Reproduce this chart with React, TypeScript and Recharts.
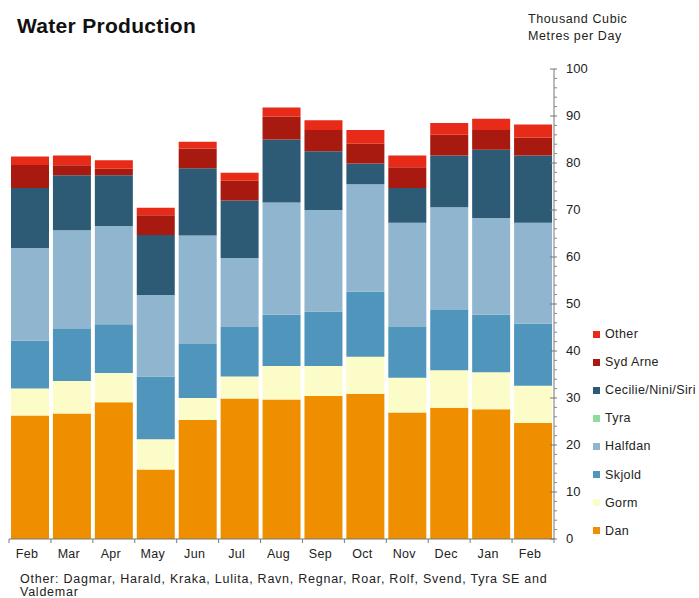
import React from "react";
import { BarChart, Bar, XAxis, YAxis } from "recharts";

const months = ["Feb", "Mar", "Apr", "May", "Jun", "Jul", "Aug", "Sep", "Oct", "Nov", "Dec", "Jan", "Feb"];
const dan = [26.3, 26.7, 29.1, 14.8, 25.3, 29.9, 29.7, 30.4, 30.9, 26.9, 27.9, 27.6, 24.7];
const gorm = [5.7, 6.9, 6.2, 6.4, 4.7, 4.7, 7.1, 6.4, 7.9, 7.4, 8.0, 7.9, 7.9];
const skjold = [10.2, 11.1, 10.4, 13.4, 11.5, 10.5, 10.9, 11.6, 13.8, 10.8, 12.8, 12.2, 13.2];
const halfdan = [19.7, 21.0, 20.9, 17.3, 23.1, 14.7, 23.9, 21.6, 22.9, 22.2, 21.9, 20.6, 21.5];
const tyra = [0, 0, 0, 0, 0, 0, 0, 0, 0, 0, 0, 0, 0];
const cecilie = [12.8, 11.7, 10.8, 12.8, 14.3, 12.2, 13.4, 12.5, 4.4, 7.4, 11.0, 14.5, 14.3];
const sydArne = [4.9, 2.1, 1.4, 4.2, 4.2, 4.2, 4.9, 4.5, 4.2, 4.4, 4.4, 4.2, 3.8];
const other = [1.8, 2.1, 1.8, 1.6, 1.4, 1.7, 1.9, 2.1, 2.9, 2.5, 2.5, 2.4, 2.8];

const yTicks = [0, 2, 4, 6, 8, 10, 12, 14, 16, 18, 20, 22, 24, 26, 28, 30, 32, 34, 36, 38, 40, 42, 44, 46, 48, 50, 52, 54, 56, 58, 60, 62, 64, 66, 68, 70, 72, 74, 76, 78, 80, 82, 84, 86, 88, 90, 92, 94, 96, 98, 100];

const series = [
  { key: "dan", name: "Dan", color: "#EF8F00", values: dan },
  { key: "gorm", name: "Gorm", color: "#FCFCC8", values: gorm },
  { key: "skjold", name: "Skjold", color: "#5096BC", values: skjold },
  { key: "halfdan", name: "Halfdan", color: "#8FB5CF", values: halfdan },
  { key: "tyra", name: "Tyra", color: "#8EDBA0", values: tyra },
  { key: "cecilie", name: "Cecilie/Nini/Siri", color: "#2D5B75", values: cecilie },
  { key: "sydArne", name: "Syd Arne", color: "#A8190F", values: sydArne },
  { key: "other", name: "Other", color: "#E82A18", values: other },
];

const data = months.map((m, i) => {
  const row: any = { month: m, idx: i };
  series.forEach((s) => {
    row[s.key] = s.values[i];
  });
  return row;
});

const FONT = "'Liberation Sans', Arial, sans-serif";
const BAND = 545 / 13;

const XTick = (props: any) => {
  const { x, y, payload, index } = props;
  const last = index === months.length - 1;
  return (
    <g>
      <line x1={x - BAND / 2} y1={y} x2={x - BAND / 2} y2={y + 4} stroke="#777" />
      {last && <line x1={x + BAND / 2} y1={y} x2={x + BAND / 2} y2={y + 4} stroke="#777" />}
      <text x={x - 3} y={y + 19} textAnchor="middle" fontSize={12.5} fill="#222" fontFamily={FONT} letterSpacing={0.3}>
        {months[payload.value] ?? payload.value}
      </text>
    </g>
  );
};

const YTick = (props: any) => {
  const { x, y, payload } = props;
  const v = payload.value;
  const major = v % 10 === 0;
  return (
    <g>
      {major ? (
        <line x1={x - 4} y1={y} x2={x + 3} y2={y} stroke="#777" />
      ) : (
        <line x1={x} y1={y} x2={x + 3} y2={y} stroke="#888" />
      )}
      {major && (
        <text x={x + 12} y={y + 4} textAnchor="start" fontSize={13} fill="#222" fontFamily={FONT}>
          {v}
        </text>
      )}
    </g>
  );
};

const legendOrder = [...series].reverse();

export default function App() {
  return (
    <div style={{ position: "absolute", left: 0, top: 0, width: 699, height: 598, background: "#fff", fontFamily: FONT }}>
      <div style={{ position: "absolute", left: 17, top: 14, fontSize: 21, fontWeight: "bold", color: "#111", letterSpacing: 0.3 }}>
        Water Production
      </div>
      <div style={{ position: "absolute", left: 528, top: 11, fontSize: 12.5, lineHeight: "16.5px", color: "#222", letterSpacing: 0.6 }}>
        Thousand Cubic
        <br />
        Metres per Day
      </div>
      <BarChart
        width={699}
        height={598}
        data={data}
        margin={{ top: 69, right: 100, bottom: 29, left: 9 }}
        barCategoryGap={2}
      >
        <XAxis
          dataKey="idx"
          interval={0}
          tickSize={0}
          tickMargin={0}
          axisLine={{ stroke: "#777" }}
          tickLine={false}
          tick={<XTick />}
          height={30}
        />
        <YAxis
          orientation="right"
          domain={[0, 100]}
          ticks={yTicks}
          interval={0}
          tickSize={0}
          tickMargin={0}
          axisLine={{ stroke: "#777" }}
          tickLine={false}
          tick={<YTick />}
          width={45}
        />
        {series.map((s) => (
          <Bar key={s.key} dataKey={s.key} stackId="a" fill={s.color} isAnimationActive={false} />
        ))}
      </BarChart>
      {legendOrder.map((s, i) => (
        <div key={s.key} style={{ position: "absolute", left: 593, top: 326 + i * 28.1, height: 16, display: "flex", alignItems: "center" }}>
          <div style={{ width: 7, height: 7, background: s.color, marginRight: 5 }} />
          <span style={{ fontSize: 12.5, color: "#222", whiteSpace: "nowrap", letterSpacing: 0.4 }}>{s.name}</span>
        </div>
      ))}
      <div style={{ position: "absolute", left: 20, top: 573, fontSize: 12.5, lineHeight: "12.5px", color: "#222", width: 600, letterSpacing: 0.75 }}>
        Other: Dagmar, Harald, Kraka, Lulita, Ravn, Regnar, Roar, Rolf, Svend, Tyra SE and
        <br />
        Valdemar
      </div>
    </div>
  );
}
